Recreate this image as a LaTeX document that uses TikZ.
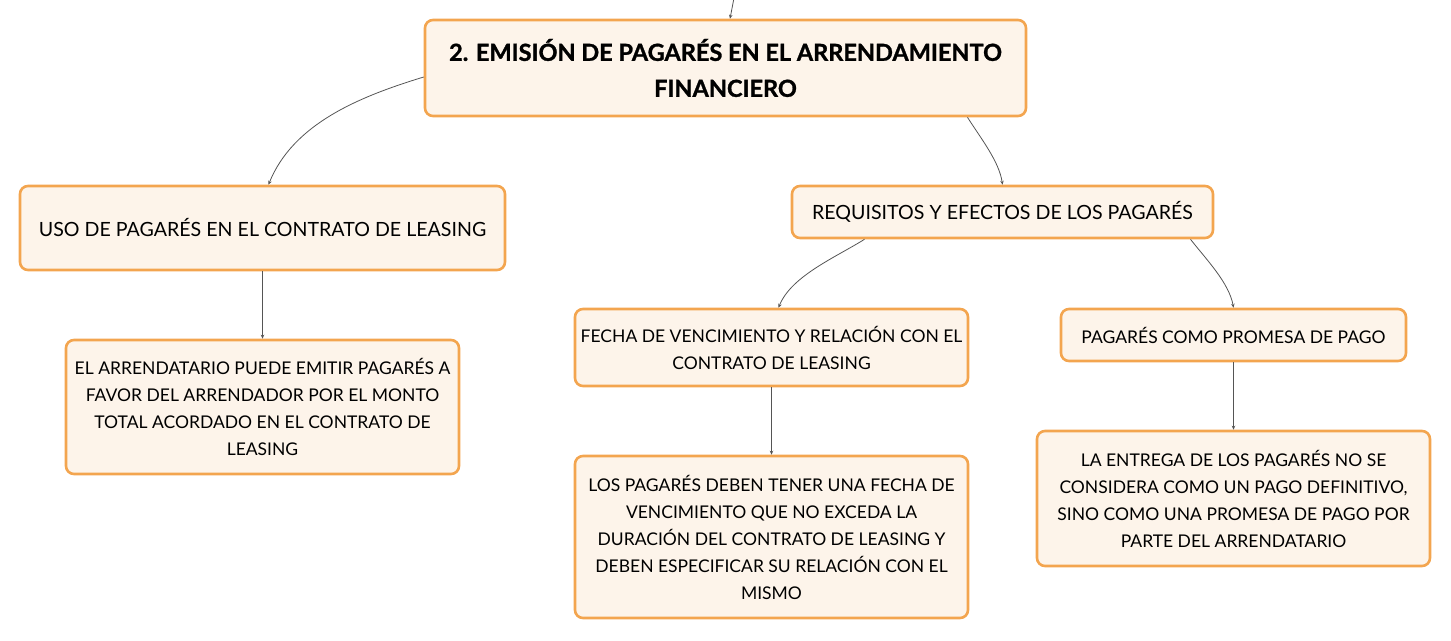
\documentclass[tikz,border=0pt]{standalone}
\usepackage{fontspec}
\setmainfont{Lato}
\newfontfamily\titlefont{Lato}[BoldFeatures={FakeBold=1.2}]
\usetikzlibrary{arrows.meta}
\definecolor{boxline}{HTML}{F3A54F}
\definecolor{boxfill}{HTML}{FDF4EA}
\definecolor{conn}{HTML}{555555}
\tikzset{
  box/.style={draw=boxline, fill=boxfill, line width=2.6pt, rounded corners=8pt,
    align=center, inner sep=0pt, font=\fontsize{17.5}{27}\selectfont, text=black},
  midbox/.style={box, font=\fontsize{19.6}{27}\selectfont},
  titlebox/.style={box, font=\titlefont\fontsize{23.5}{36}\selectfont\bfseries},
  link/.style={draw=conn, line width=0.8pt, -{Stealth[length=4pt,width=3.5pt]}},
}
\begin{document}
\begin{tikzpicture}[x=1pt,y=-1pt]
\useasboundingbox (0,0) rectangle (1451,640);
\node[titlebox, minimum width=601pt, minimum height=96pt] (title) at (725.5,68)
  {2. EMISIÓN DE PAGARÉS EN EL ARRENDAMIENTO\\FINANCIERO};
\node[midbox, minimum width=485pt, minimum height=84pt] (uso) at (262.5,228)
  {USO DE PAGARÉS EN EL CONTRATO DE LEASING};
\node[midbox, minimum width=421pt, minimum height=52pt] (req) at (1002.5,212)
  {REQUISITOS Y EFECTOS DE LOS PAGARÉS};
\node[box, minimum width=393pt, minimum height=77pt] (fecha) at (771.5,347.5)
  {FECHA DE VENCIMIENTO Y RELACIÓN CON EL\\CONTRATO DE LEASING};
\node[box, minimum width=345pt, minimum height=52pt] (promesa) at (1233.5,335)
  {PAGARÉS COMO PROMESA DE PAGO};
\node[box, minimum width=393pt, minimum height=134pt] (arr) at (262.5,407)
  {EL ARRENDATARIO PUEDE EMITIR PAGARÉS A\\FAVOR DEL ARRENDADOR POR EL MONTO\\TOTAL ACORDADO EN EL CONTRATO DE\\LEASING};
\node[box, minimum width=393pt, minimum height=162pt] (pag) at (771.5,537)
  {LOS PAGARÉS DEBEN TENER UNA FECHA DE\\VENCIMIENTO QUE NO EXCEDA LA\\DURACIÓN DEL CONTRATO DE LEASING Y\\DEBEN ESPECIFICAR SU RELACIÓN CON EL\\MISMO};
\node[box, minimum width=393pt, minimum height=135pt] (ent) at (1233.5,498.5)
  {LA ENTREGA DE LOS PAGARÉS NO SE\\CONSIDERA COMO UN PAGO DEFINITIVO,\\SINO COMO UNA PROMESA DE PAGO POR\\PARTE DEL ARRENDATARIO};
\coordinate (top) at (734,-2);
\draw[link] (top) -- ([xshift=4.5pt]title.north);
\draw[link] ([yshift=-9pt]title.west) to[out=197, in=68, looseness=0.9] ([xshift=6pt]uso.north);
\draw[link] ([xshift=242pt]title.south) to[out=-58, in=98, looseness=0.8] (req.north);
\draw[link] ([xshift=-138pt]req.south) to[out=212, in=68, looseness=0.8] ([xshift=7pt]fecha.north);
\draw[link] ([xshift=188pt]req.south) to[out=-52, in=100, looseness=0.8] (promesa.north);
\draw[link] (uso.south) -- (arr.north);
\draw[link] (fecha.south) -- (pag.north);
\draw[link] (promesa.south) -- (ent.north);
\end{tikzpicture}
\end{document}
